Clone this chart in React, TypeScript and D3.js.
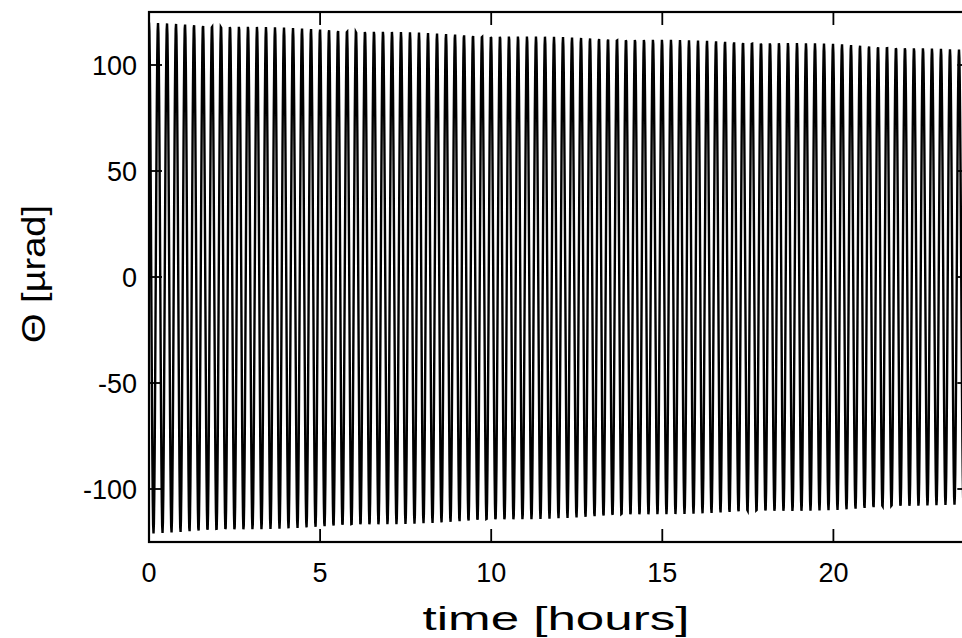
import React from "react";
import * as d3 from "d3";

// Envelope of the oscillation (hours -> µrad)
const envHours = [0, 5, 10, 15, 20, 24];
const upperEnv = [120, 117, 114, 112, 110, 107];
const lowerEnv = [-121, -118, -115, -112, -110, -107];
// Oscillation period read from stripe spacing (hours)
const periodHours = 0.263;

const xTicks = [0, 5, 10, 15, 20];
const yTicks = [-100, -50, 0, 50, 100];

const W = 962;
const H = 638;
const left = 149;
const top = 12;
const bottom = 542;
const right = 149 + 24 * 34.22;

export default function App() {
  const x = d3.scaleLinear().domain([0, 24]).range([left, right]);
  const y = d3.scaleLinear().domain([-125, 125]).range([bottom, top]);
  const up = d3.scaleLinear().domain(envHours).range(upperEnv);
  const lo = d3.scaleLinear().domain(envHours).range(lowerEnv);

  const pts: [number, number][] = [];
  const n = Math.round(24 / periodHours) * 24;
  for (let i = 0; i <= n; i++) {
    const t = (i / n) * 24;
    const c = Math.cos((2 * Math.PI * t) / periodHours);
    const mid = (up(t) + lo(t)) / 2;
    const amp = (up(t) - lo(t)) / 2;
    pts.push([t, mid + amp * c]);
  }
  const line = d3
    .line<[number, number]>()
    .x((d) => x(d[0]))
    .y((d) => y(d[1]));

  const font = "'Liberation Sans', Arial, sans-serif";

  return (
    <svg
      width={W}
      height={H}
      style={{ position: "absolute", left: 0, top: 0, background: "#fff" }}
    >
      <defs>
        <clipPath id="plot">
          <rect x={left} y={top} width={right - left} height={bottom - top} />
        </clipPath>
      </defs>
      <path
        d={line(pts) || ""}
        fill="none"
        stroke="#000"
        strokeWidth={2.4}
        clipPath="url(#plot)"
      />
      <rect
        x={left}
        y={top}
        width={right - left}
        height={bottom - top}
        fill="none"
        stroke="#000"
        strokeWidth={2.2}
      />
      {xTicks.map((t) => (
        <g key={"x" + t}>
          <line x1={x(t)} x2={x(t)} y1={bottom} y2={bottom - 13} stroke="#000" strokeWidth={1.8} />
          <line x1={x(t)} x2={x(t)} y1={top} y2={top + 13} stroke="#000" strokeWidth={1.8} />
          <text
            x={x(t)}
            y={582}
            textAnchor="middle"
            fontFamily={font}
            fontSize={27}
            fill="#000"
          >
            {t}
          </text>
        </g>
      ))}
      {yTicks.map((v) => (
        <g key={"y" + v}>
          <line x1={left} x2={left + 13} y1={y(v)} y2={y(v)} stroke="#000" strokeWidth={1.8} />
          <line x1={right} x2={right - 13} y1={y(v)} y2={y(v)} stroke="#000" strokeWidth={1.8} />
          <text
            x={137}
            y={y(v) + 10}
            textAnchor="end"
            fontFamily={font}
            fontSize={27}
            fill="#000"
          >
            {v}
          </text>
        </g>
      ))}
      <text
        x={556}
        y={630}
        textAnchor="middle"
        fontFamily={font}
        fontSize={34}
        textLength={267}
        lengthAdjust="spacingAndGlyphs"
        fill="#000"
      >
        time [hours]
      </text>
      <text
        transform={`translate(45, 274) rotate(-90)`}
        textAnchor="middle"
        fontFamily={font}
        fontSize={34}
        textLength={138}
        lengthAdjust="spacingAndGlyphs"
        fill="#000"
      >
        Θ [µrad]
      </text>
    </svg>
  );
}
